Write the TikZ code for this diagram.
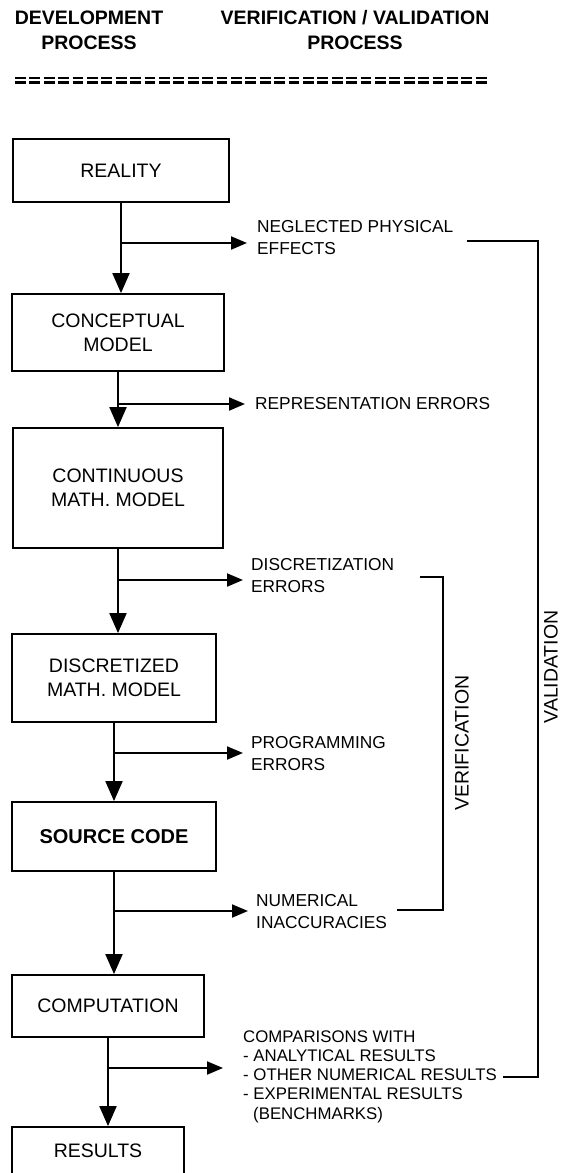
\documentclass[tikz,border=0pt]{standalone}
\usepackage{fontspec}
\setmainfont{Liberation Sans}
\usetikzlibrary{arrows.meta}

\begin{document}
\begin{tikzpicture}[x=1pt,y=-1pt]

\tikzset{stage/.style = {shape=rectangle,draw,line width=1.8pt,align=center,inner sep=0pt,font=\fontsize{19.5}{24}\selectfont}}
\tikzset{flow/.style = {line width=2pt,-{Triangle[length=20pt,width=17pt]}}}
\tikzset{side/.style = {line width=2pt,-{Triangle[length=16pt,width=13pt]}}}
\tikzset{note/.style = {anchor=west,align=left,inner sep=0pt,font=\fontsize{17.3}{22}\selectfont}}
\tikzset{head/.style = {align=center,inner sep=0pt,font=\bfseries\fontsize{19.5}{25}\selectfont}}
\tikzset{bracket/.style = {line width=1.8pt}}
\tikzset{rule/.style = {line width=2.2pt,dash pattern=on 10.8pt off 3.6pt}}

\useasboundingbox (0,0) rectangle (571,1173);

%headings
\node[head] (dev) at (89,30) {DEVELOPMENT\\PROCESS};
\node[head] (vv) at (355,30) {VERIFICATION / VALIDATION\\PROCESS};
\draw[rule] (15,78) -- (490,78);
\draw[rule] (15,82.5) -- (490,82.5);

%stages
\node[stage, minimum width=216pt, minimum height=63pt] (real) at (121,170.5) {REALITY};
\node[stage, minimum width=212pt, minimum height=77pt] (concept) at (118,332.5) {CONCEPTUAL\\MODEL};
\node[stage, minimum width=210pt, minimum height=120pt] (cont) at (118,488) {CONTINUOUS\\MATH. MODEL};
\node[stage, minimum width=204pt, minimum height=88pt] (disc) at (114,678) {DISCRETIZED\\MATH. MODEL};
\node[stage, minimum width=204pt, minimum height=69pt, font=\bfseries\fontsize{20}{24}\selectfont] (src) at (114,836.5) {SOURCE CODE};
\node[stage, minimum width=192pt, minimum height=62pt] (comp) at (108,1006) {COMPUTATION};
\node[stage, minimum width=172pt, minimum height=48pt] (res) at (98,1151) {RESULTS};

%error sources
\node[note] (neglect) at (257,237.5) {NEGLECTED PHYSICAL\\EFFECTS};
\node[note] (repres) at (255,404) {REPRESENTATION ERRORS};
\node[note] (discr) at (251,576) {DISCRETIZATION\\ERRORS};
\node[note] (progr) at (251,754) {PROGRAMMING\\ERRORS};
\node[note] (numer) at (256,911.5) {NUMERICAL\\INACCURACIES};
\node[note, font=\fontsize{16.8}{19.3}\selectfont] (compar) at (243,1076.5)
  {COMPARISONS WITH\\- ANALYTICAL RESULTS\\- OTHER NUMERICAL RESULTS\\- EXPERIMENTAL RESULTS\\\hspace*{10pt}(BENCHMARKS)};

%branch points
\coordinate (k1) at (real.south |- 0,243);
\coordinate (k2) at (concept.south |- 0,404);
\coordinate (k3) at (cont.south |- 0,580);
\coordinate (k4) at (disc.south |- 0,753);
\coordinate (k5) at (src.south |- 0,911);
\coordinate (k6) at (comp.south |- 0,1068);

%edges
\draw[flow] (real.south) -- (real.south |- concept.north);
\draw[flow] (concept.south) -- (concept.south |- cont.north);
\draw[flow] (cont.south) -- (cont.south |- disc.north);
\draw[flow] (disc.south) -- (disc.south |- src.north);
\draw[flow] (src.south) -- (src.south |- comp.north);
\draw[flow] (comp.south) -- (comp.south |- res.north);

\draw[side, shorten >=10pt] (k1) -- (neglect.west |- k1);
\draw[side, shorten >=10pt] (k2) -- (repres.west |- k2);
\draw[side, shorten >=8pt] (k3) -- (discr.west |- k3);
\draw[side, shorten >=8pt] (k4) -- (progr.west |- k4);
\draw[side, shorten >=8pt] (k5) -- (numer.west |- k5);
\draw[side, shorten >=20pt] (k6) -- (compar.west |- k6);

%verification bracket
\coordinate (v1) at (420,577);
\coordinate (v2) at (397,910);
\draw[bracket] (v1) -| (443,910) -- (v2);
\node[rotate=90, inner sep=0pt, font=\fontsize{19.5}{24}\selectfont] (verif) at (462,743) {VERIFICATION};

%validation bracket
\coordinate (w1) at (467,241);
\coordinate (w2) at (503,1077);
\draw[bracket] (w1) -| (538,1077) -- (w2);
\node[rotate=90, inner sep=0pt, font=\fontsize{19.5}{24}\selectfont] (valid) at (551,667) {VALIDATION};

\end{tikzpicture}
\end{document}
